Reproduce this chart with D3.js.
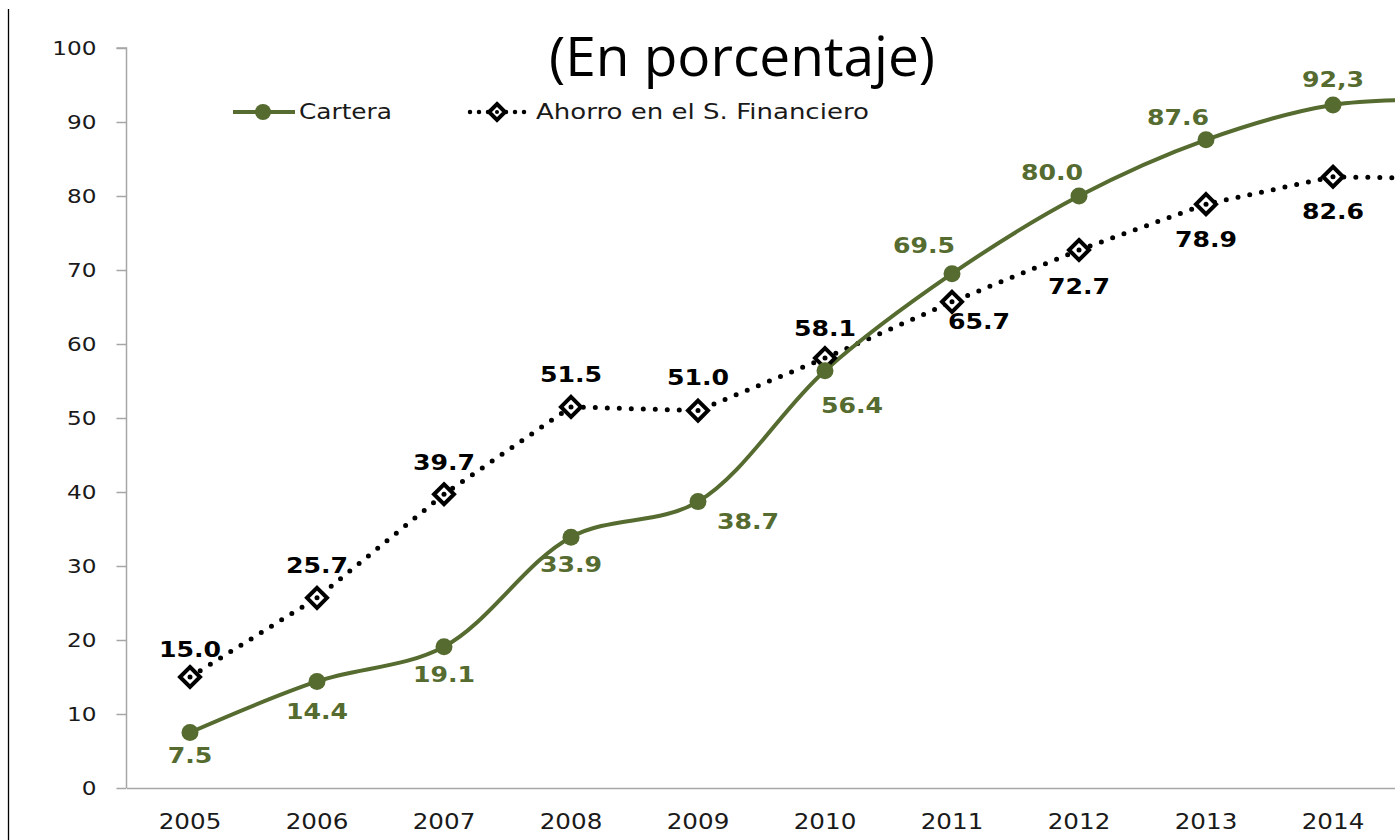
<!DOCTYPE html>
<html>
<head>
<meta charset="utf-8">
<script src="https://cdn.jsdelivr.net/npm/d3@7"></script>
<style>
  html, body { margin: 0; padding: 0; background: #ffffff; }
  svg { display: block; }
</style>
</head>
<body>
<svg id="chart" width="1395" height="840"></svg>
<script>
// ---- data ----
const years = ["2005","2006","2007","2008","2009","2010","2011","2012","2013","2014","2015"];
const cartera = [7.5, 14.4, 19.1, 33.9, 38.7, 56.4, 69.5, 80.0, 87.6, 92.3, 93.0];
const ahorro  = [15.0, 25.7, 39.7, 51.5, 51.0, 58.1, 65.7, 72.7, 78.9, 82.6, 82.3];
const carteraLabels = ["7.5","14.4","19.1","33.9","38.7","56.4","69.5","80.0","87.6","92,3",""];
const ahorroLabels  = ["15.0","25.7","39.7","51.5","51.0","58.1","65.7","72.7","78.9","82.6",""];
const xTickLabels = ["2005","2006","2007","2008","2009","2010","2011","2012","2013","2014"];
const yTicks = [0,10,20,30,40,50,60,70,80,90,100];
const seriesNames = ["Cartera", "Ahorro en el S. Financiero"];
const titleText = "(En porcentaje)";

// label offsets (placement, px)
const carteraLabelDx = [0,0,0,0,50,27,-28,-27,-28,0,0];
const carteraLabelDy = [23,30,28,28,20,35,-28,-23,-22,-25,0];
const ahorroLabelDx  = [0,0,0,0,0,0,27,0,0,0,0];
const ahorroLabelDy  = [-27,-32,-32,-32,-33,-29,20,37,36,35,0];

// ---- layout ----
const svg = d3.select("#chart");
const green = "#556B2F";
const axisColor = "#A6A6A6";
const SX = 1.22; // horizontal stretch of texts
const left = 126.5, step = 127;
const x = d3.scaleBand().domain(years).range([left, left + step * years.length]).paddingInner(0).paddingOuter(0);
const y = d3.scaleLinear().domain([0, 100]).range([788, 48]);
const cx = d => x(d) + x.bandwidth() / 2;

function stretch(sel, sx) {
  sel.each(function() {
    const t = d3.select(this);
    const xv = +(t.attr("x") || 0);
    t.attr("x", xv / sx).attr("transform", `scale(${sx},1)`);
  });
}

// frame line on left
svg.append("line").attr("x1", 8.5).attr("x2", 8.5).attr("y1", 9).attr("y2", 840)
  .attr("stroke", "#000").attr("stroke-width", 1.3);

// title
svg.append("text").attr("x", 742).attr("y", 76).attr("text-anchor", "middle")
  .attr("font-family", "'Open Sans', sans-serif").attr("font-size", 55)
  .attr("fill", "#000").text(titleText);

// y axis
const yAxis = d3.axisLeft(y).tickValues(yTicks).tickSize(10).tickPadding(20).tickFormat(d3.format("d"));
const gy = svg.append("g").attr("transform", `translate(${left},0)`).call(yAxis);
gy.select(".domain").attr("stroke", axisColor).attr("stroke-width", 1.5).attr("d", `M-10,${y(100)}H0V${y(0)}`);
gy.selectAll(".tick line").attr("stroke", axisColor).attr("stroke-width", 1.5);
gy.selectAll(".tick text").attr("font-family", "'DejaVu Sans', Verdana, sans-serif")
  .attr("font-size", 19).attr("fill", "#1a1a1a").attr("x", -30);
stretch(gy.selectAll(".tick text"), SX);

// x axis
const xAxis = d3.axisBottom(x).tickValues(xTickLabels).tickSize(0).tickPadding(26);
const gx = svg.append("g").attr("transform", `translate(0,${y(0)})`).call(xAxis);
gx.select(".domain").attr("stroke", axisColor).attr("stroke-width", 1.5);
gx.selectAll(".tick text").attr("font-family", "'DejaVu Sans', Verdana, sans-serif")
  .attr("font-size", 20.5).attr("fill", "#1a1a1a");
stretch(gx.selectAll(".tick text"), 1.2);

// lines
const carteraLine = d3.line().x((d, i) => cx(years[i])).y(d => y(d)).curve(d3.curveCatmullRom.alpha(0.5));
const ahorroLine = d3.line().x((d, i) => cx(years[i])).y(d => y(d)).curve(d3.curveLinear);

svg.append("path").datum(ahorro).attr("d", ahorroLine).attr("fill", "none")
  .attr("stroke", "#000").attr("stroke-width", 5).attr("stroke-linecap", "round")
  .attr("stroke-dasharray", "0 12");

svg.append("path").datum(cartera).attr("d", carteraLine).attr("fill", "none")
  .attr("stroke", green).attr("stroke-width", 4);

// markers
const diamond = s => `M0,${-s}L${s},0L0,${s}L${-s},0Z`;
svg.append("g").selectAll("g").data(ahorro).join("g")
  .attr("transform", (d, i) => `translate(${cx(years[i])},${y(d)})`)
  .each(function() {
    const g = d3.select(this);
    g.append("path").attr("d", diamond(10)).attr("fill", "#fff").attr("stroke", "#000").attr("stroke-width", 4);
    g.append("circle").attr("r", 2.5).attr("fill", "#000");
  });

svg.append("g").selectAll("circle").data(cartera).join("circle")
  .attr("cx", (d, i) => cx(years[i])).attr("cy", d => y(d)).attr("r", 8.5).attr("fill", green);

// data labels
const labelFont = "'DejaVu Sans', Verdana, sans-serif";
const cl = svg.append("g").selectAll("text").data(cartera).join("text")
  .attr("x", (d, i) => cx(years[i]) + carteraLabelDx[i])
  .attr("y", (d, i) => y(d) + carteraLabelDy[i])
  .attr("dy", "0.35em").attr("text-anchor", "middle")
  .attr("font-family", labelFont).attr("font-weight", "bold").attr("font-size", 21)
  .attr("fill", green).text((d, i) => carteraLabels[i]);
stretch(cl, 1.2);

const al = svg.append("g").selectAll("text").data(ahorro).join("text")
  .attr("x", (d, i) => cx(years[i]) + ahorroLabelDx[i])
  .attr("y", (d, i) => y(d) + ahorroLabelDy[i])
  .attr("dy", "0.35em").attr("text-anchor", "middle")
  .attr("font-family", labelFont).attr("font-weight", "bold").attr("font-size", 21)
  .attr("fill", "#000").text((d, i) => ahorroLabels[i]);
stretch(al, 1.2);

// legend
const lg = svg.append("g");
lg.append("line").attr("x1", 233).attr("x2", 295).attr("y1", 112).attr("y2", 112)
  .attr("stroke", green).attr("stroke-width", 4);
lg.append("circle").attr("cx", 263).attr("cy", 112).attr("r", 8).attr("fill", green);
const lt1 = lg.append("text").attr("x", 299).attr("y", 112).attr("dy", "0.35em")
  .attr("font-family", "'DejaVu Sans', Verdana, sans-serif").attr("font-size", 21).attr("fill", "#1a1a1a")
  .text(seriesNames[0]);
stretch(lt1, 1.18);

lg.append("line").attr("x1", 470).attr("x2", 530).attr("y1", 112).attr("y2", 112)
  .attr("stroke", "#000").attr("stroke-width", 4.5).attr("stroke-linecap", "round")
  .attr("stroke-dasharray", "0 9");
lg.append("path").attr("transform", "translate(497,112)").attr("d", diamond(8))
  .attr("fill", "#fff").attr("stroke", "#000").attr("stroke-width", 4);
lg.append("circle").attr("cx", 497).attr("cy", 112).attr("r", 2).attr("fill", "#000");
const lt2 = lg.append("text").attr("x", 536).attr("y", 112).attr("dy", "0.35em")
  .attr("font-family", "'DejaVu Sans', Verdana, sans-serif").attr("font-size", 21).attr("fill", "#1a1a1a")
  .text(seriesNames[1]);
stretch(lt2, 1.24);
</script>
</body>
</html>
